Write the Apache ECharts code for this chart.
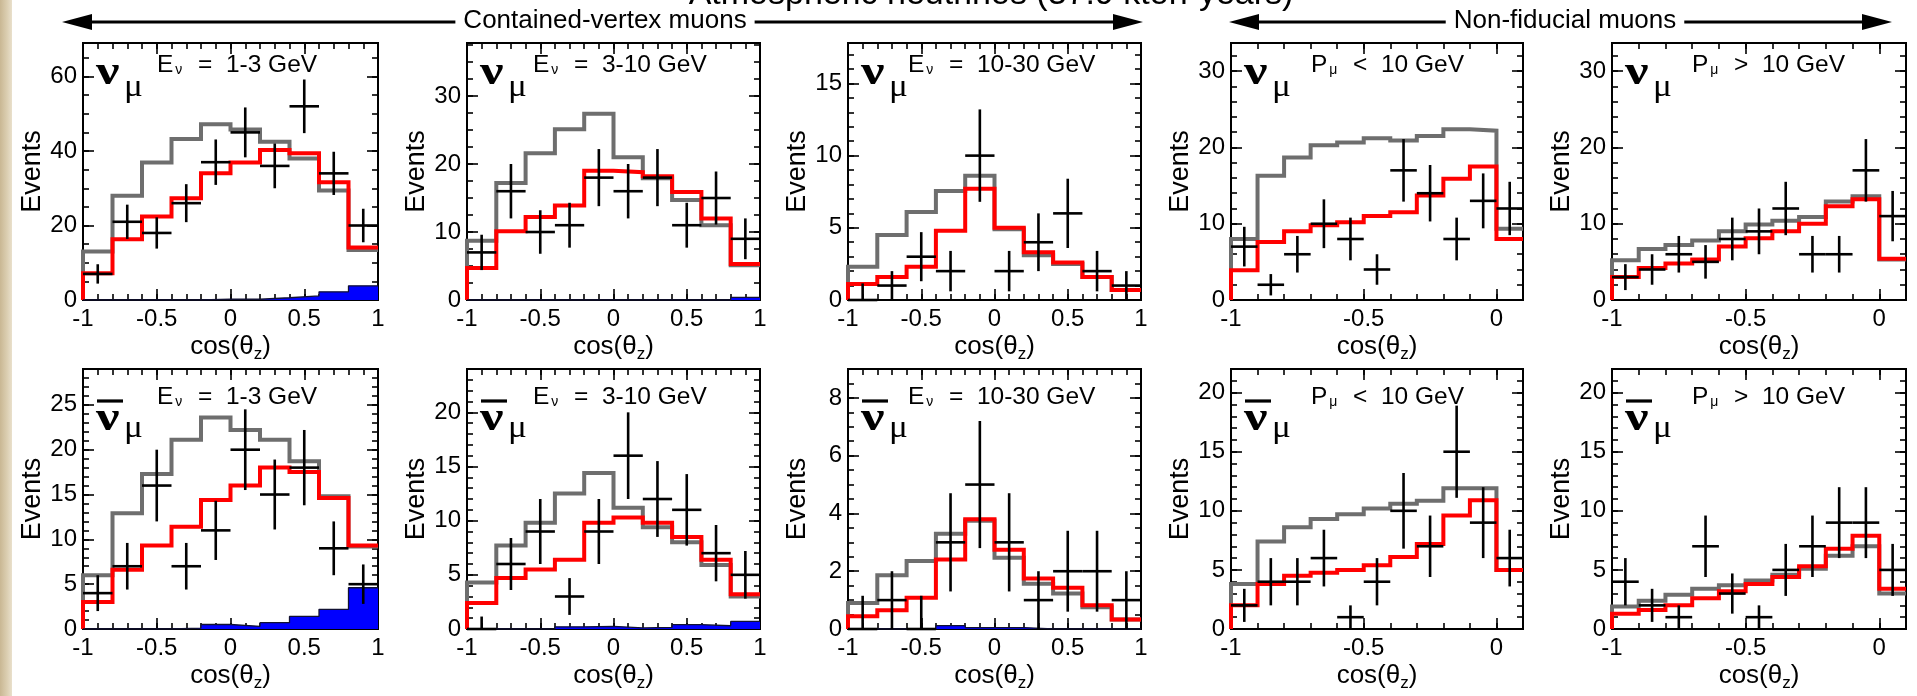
<!DOCTYPE html>
<html>
<head>
<meta charset="utf-8">
<script src="https://cdn.jsdelivr.net/npm/echarts@6.0.0/dist/echarts.min.js"></script>
<style>
  html, body { margin: 0; padding: 0; background: #fff; }
  #chart { width: 1917px; height: 696px; }
</style>
</head>
<body>
<div id="chart"></div>
<script>
// ---- binning -------------------------------------------------------------
const contEdges = [-1, -0.8, -0.6, -0.4, -0.2, 0, 0.2, 0.4, 0.6, 0.8, 1];
const nfEdges = [-1, -0.9, -0.8, -0.7, -0.6, -0.5, -0.4, -0.3, -0.2, -0.1, 0, 0.1];

// ---- numu, contained vertex, E = 1-3 GeV ---------------------------------
const numuLowUnosc = [13.0, 28.0, 36.9, 43.2, 47.2, 45.8, 42.5, 38.0, 29.4, 13.4];
const numuLowOsc   = [7.2, 16.3, 22.4, 27.3, 34.0, 36.9, 40.3, 39.4, 31.6, 14.1];
const numuLowBkg   = [0, 0, 0, 0, 0.2, 0.2, 0.6, 1.1, 2.2, 3.8];
const numuLowData  = [7, 21, 18, 26, 37, 45, 36, 52, 34, 20];
const numuLowErr   = [2.6, 4.6, 4.2, 5.1, 6.1, 6.7, 6.0, 7.2, 5.8, 4.5];

// ---- numu, contained vertex, E = 3-10 GeV --------------------------------
const numuMidUnosc = [8.7, 17.2, 21.6, 25.1, 27.4, 21.0, 17.9, 14.7, 11.0, 5.1];
const numuMidOsc   = [4.7, 10.1, 12.2, 13.9, 19.0, 18.8, 18.2, 15.9, 12.0, 5.3];
const numuMidBkg   = [0, 0, 0, 0, 0, 0, 0, 0, 0, 0.4];
const numuMidData  = [7, 16, 10, 11, 18, 16, 18, 11, 15, 9];
const numuMidErr   = [2.6, 4.0, 3.2, 3.3, 4.2, 4.0, 4.2, 3.3, 3.9, 3.0];

// ---- numu, contained vertex, E = 10-30 GeV -------------------------------
const numuHighUnosc = [2.3, 4.5, 6.1, 7.55, 8.6, 4.9, 3.1, 2.5, 1.6, 0.7];
const numuHighOsc   = [1.1, 1.6, 2.3, 4.8, 7.7, 5.0, 3.3, 2.6, 1.6, 0.7];
const numuHighData  = [0, 1, 3, 2, 10, 2, 4, 6, 2, 1];
const numuHighErr   = [1.15, 1.0, 1.7, 1.4, 3.2, 1.4, 2.0, 2.4, 1.4, 1.0];

// ---- numu, non-fiducial, P < 10 GeV --------------------------------------
const numuNfLowUnosc = [8.0, 16.3, 18.7, 20.3, 20.65, 21.2, 20.9, 21.5, 22.4, 22.2, 9.35];
const numuNfLowOsc   = [3.9, 7.6, 9.0, 9.8, 10.2, 11.0, 11.5, 13.7, 15.9, 17.5, 8.0];
const numuNfLowData  = [7, 2, 6, 10, 8, 4, 17, 14, 8, 13, 12];
const numuNfLowErr   = [2.6, 1.4, 2.4, 3.2, 2.8, 2.0, 4.1, 3.7, 2.8, 3.6, 3.5];

// ---- numu, non-fiducial, P > 10 GeV --------------------------------------
const numuNfHighUnosc = [5.2, 6.7, 7.2, 7.8, 9.0, 9.9, 10.4, 10.9, 12.9, 13.6, 5.3];
const numuNfHighOsc   = [3.0, 4.2, 4.8, 5.3, 7.0, 8.1, 9.0, 10.0, 12.3, 13.2, 5.4];
const numuNfHighData  = [3, 4, 6, 5, 8, 9, 12, 6, 6, 17, 11];
const numuNfHighErr   = [1.7, 2.0, 2.4, 2.2, 2.8, 3.0, 3.5, 2.4, 2.4, 4.1, 3.3];

// ---- numubar, contained vertex, E = 1-3 GeV ------------------------------
const numubarLowUnosc = [6.0, 12.9, 17.3, 21.1, 23.6, 22.2, 21.1, 18.7, 14.8, 9.2];
const numubarLowOsc   = [3.0, 6.6, 9.3, 11.4, 14.4, 16.0, 18.0, 17.5, 14.6, 9.3];
const numubarLowBkg   = [0, 0, 0, 0.1, 0.5, 0.3, 0.7, 1.4, 2.2, 4.6];
const numubarLowData  = [4, 7, 16, 7, 11, 20, 15, 18, 9, 5];
const numubarLowErr   = [2.0, 2.6, 4.0, 2.6, 3.3, 4.5, 3.9, 4.2, 3.0, 2.2];

// ---- numubar, contained vertex, E = 3-10 GeV -----------------------------
const numubarMidUnosc = [4.3, 7.7, 9.8, 12.5, 14.4, 11.2, 9.4, 8.0, 5.9, 3.0];
const numubarMidOsc   = [2.4, 4.7, 5.5, 6.4, 9.8, 10.3, 9.8, 8.5, 6.4, 3.2];
const numubarMidBkg   = [0, 0, 0, 0.2, 0.25, 0.1, 0.15, 0.4, 0.3, 0.7];
const numubarMidData  = [0, 6, 9, 3, 9, 16, 12, 11, 7, 5];
const numubarMidErr   = [1.15, 2.4, 3.0, 1.7, 3.0, 4.0, 3.5, 3.3, 2.6, 2.2];

// ---- numubar, contained vertex, E = 10-30 GeV ----------------------------
const numubarHighUnosc = [0.9, 1.86, 2.35, 3.3, 3.75, 2.47, 1.57, 1.23, 0.75, 0.33];
const numubarHighOsc   = [0.44, 0.65, 1.08, 2.41, 3.8, 2.74, 1.75, 1.43, 0.82, 0.33];
const numubarHighBkg   = [0, 0, 0, 0.12, 0.05, 0.05, 0, 0, 0, 0];
const numubarHighData  = [0, 1, 0, 3, 5, 3, 1, 2, 2, 1];
const numubarHighErr   = [1.15, 1.0, 1.15, 1.7, 2.2, 1.7, 1.0, 1.4, 1.4, 1.0];

// ---- numubar, non-fiducial, P < 10 GeV -----------------------------------
const numubarNfLowUnosc = [3.8, 7.4, 8.6, 9.3, 9.7, 10.2, 10.6, 10.85, 11.9, 11.9, 5.0];
const numubarNfLowOsc   = [2.0, 3.8, 4.5, 4.75, 5.0, 5.4, 6.1, 7.2, 9.6, 10.9, 5.0];
const numubarNfLowData  = [2, 4, 4, 6, 1, 4, 10, 7, 15, 9, 6];
const numubarNfLowErr   = [1.4, 2.0, 2.0, 2.4, 1.0, 2.0, 3.2, 2.6, 3.9, 3.0, 2.4];

// ---- numubar, non-fiducial, P > 10 GeV -----------------------------------
const numubarNfHighUnosc = [1.9, 2.4, 2.9, 3.4, 3.7, 4.1, 4.6, 5.1, 6.2, 7.0, 3.0];
const numubarNfHighOsc   = [1.3, 1.6, 2.0, 2.6, 3.2, 3.8, 4.4, 5.3, 6.8, 7.9, 3.4];
const numubarNfHighData  = [4, 2, 1, 7, 3, 1, 5, 7, 9, 9, 5];
const numubarNfHighErr   = [2.0, 1.4, 1.0, 2.6, 1.7, 1.0, 2.2, 2.6, 3.0, 3.0, 2.2];

// ---- panel texts and y scales --------------------------------------------
const panelLabels = [
  '{v|E}{s|ν}{v|  =  1-3 GeV}', '{v|E}{s|ν}{v|  =  3-10 GeV}', '{v|E}{s|ν}{v|  =  10-30 GeV}',
  '{v|P}{s|μ}{v|  <  10 GeV}', '{v|P}{s|μ}{v|  >  10 GeV}'
];
const yMaxes  = [69, 37.8, 17.8, 33.7, 33.7, 29, 24, 9, 22, 22];
const yMajors = [20, 10, 5, 10, 10, 5, 5, 2, 5, 5];
const yMinors = [5, 2.5, 1, 2, 2, 1, 1, 0.5, 1, 1];

const panels = [
  { edges: contEdges, unosc: numuLowUnosc, osc: numuLowOsc, bkg: numuLowBkg, data: numuLowData, err: numuLowErr },
  { edges: contEdges, unosc: numuMidUnosc, osc: numuMidOsc, bkg: numuMidBkg, data: numuMidData, err: numuMidErr },
  { edges: contEdges, unosc: numuHighUnosc, osc: numuHighOsc, bkg: null, data: numuHighData, err: numuHighErr },
  { edges: nfEdges, unosc: numuNfLowUnosc, osc: numuNfLowOsc, bkg: null, data: numuNfLowData, err: numuNfLowErr },
  { edges: nfEdges, unosc: numuNfHighUnosc, osc: numuNfHighOsc, bkg: null, data: numuNfHighData, err: numuNfHighErr },
  { edges: contEdges, unosc: numubarLowUnosc, osc: numubarLowOsc, bkg: numubarLowBkg, data: numubarLowData, err: numubarLowErr },
  { edges: contEdges, unosc: numubarMidUnosc, osc: numubarMidOsc, bkg: numubarMidBkg, data: numubarMidData, err: numubarMidErr },
  { edges: contEdges, unosc: numubarHighUnosc, osc: numubarHighOsc, bkg: numubarHighBkg, data: numubarHighData, err: numubarHighErr },
  { edges: nfEdges, unosc: numubarNfLowUnosc, osc: numubarNfLowOsc, bkg: null, data: numubarNfLowData, err: numubarNfLowErr },
  { edges: nfEdges, unosc: numubarNfHighUnosc, osc: numubarNfHighOsc, bkg: null, data: numubarNfHighData, err: numubarNfHighErr }
];

// ---- layout --------------------------------------------------------------
const colLeft = [83, 467, 848, 1231, 1612];
const colWidth = [295, 293, 293, 292, 294];
const rowTop = [43, 369];
const rowHeight = [257, 260];
const labelLeft = [74, 66, 60, 80, 80];

const FONT = "'Liberation Sans', Arial, Helvetica, sans-serif";
const SERIF = "'Liberation Serif', 'Times New Roman', serif";

// histogram outline: rises from zero at the first edge, flat across each bin
function stepPoints(edges, vals) {
  const pts = [[edges[0], 0]];
  vals.forEach((v, k) => pts.push([edges[k], v]));
  pts.push([edges[edges.length - 1], vals[vals.length - 1]]);
  return pts;
}

// data crosses: [binLow, binHigh, value, errLow, errHigh]
function crossItems(edges, vals, errs) {
  return vals.map((v, k) => [edges[k], edges[k + 1], v, Math.max(0, v - errs[k]), v + errs[k]]);
}

function renderCross(params, api) {
  const lo = api.value(0), hi = api.value(1), y = api.value(2);
  const c = (lo + hi) / 2;
  const pL = api.coord([lo, y]), pR = api.coord([hi, y]);
  const pB = api.coord([c, api.value(3)]), pT = api.coord([c, api.value(4)]);
  const st = { stroke: '#000', lineWidth: 2.6 };
  return {
    type: 'group',
    children: [
      { type: 'line', shape: { x1: pL[0], y1: pL[1], x2: pR[0], y2: pR[1] }, style: st },
      { type: 'line', shape: { x1: pT[0], y1: pT[1], x2: pB[0], y2: pB[1] }, style: st }
    ]
  };
}

const grid = [], xAxis = [], yAxis = [], series = [], graphic = [];
const tickStyle = { color: '#000', width: 1.6 };
const noLine = { show: false, onZero: false };

panels.forEach((p, i) => {
  const row = i < 5 ? 0 : 1, col = i % 5;
  const left = colLeft[col], top = rowTop[row], width = colWidth[col], height = rowHeight[row];
  grid.push({
    left, top, width, height, show: true, borderColor: '#000', borderWidth: 2,
    backgroundColor: '#fff', containLabel: false, outerBoundsMode: 'none'
  });

  const xMin = p.edges[0], xMax = p.edges[p.edges.length - 1];
  const xBase = {
    type: 'value', gridIndex: i, min: xMin, max: xMax,
    axisLine: noLine, splitLine: { show: false }, axisLabel: { show: false }
  };
  xAxis.push(Object.assign({}, xBase, {
    position: 'bottom', interval: 0.5,
    axisTick: { show: true, inside: true, length: 11, lineStyle: tickStyle },
    axisLabel: {
      show: true, fontSize: 24, fontFamily: FONT, color: '#000', margin: 7,
      showMinLabel: true, showMaxLabel: xMax === 1
    },
    name: '{a|cos(θ}{b|z}{a|)}', nameLocation: 'middle', nameGap: 31, nameMoveOverlap: false,
    nameTextStyle: {
      rich: {
        a: { fontSize: 26, fontFamily: FONT, color: '#000' },
        b: { fontSize: 17, fontFamily: FONT, color: '#000', padding: [15, 0, 0, 0] }
      }
    }
  }));
  xAxis.push(Object.assign({}, xBase, {
    position: 'bottom', interval: 0.1,
    axisTick: { show: true, inside: true, length: 6, lineStyle: tickStyle }
  }));
  xAxis.push(Object.assign({}, xBase, {
    position: 'top', interval: 0.5,
    axisTick: { show: true, inside: true, length: 11, lineStyle: tickStyle }
  }));
  xAxis.push(Object.assign({}, xBase, {
    position: 'top', interval: 0.1,
    axisTick: { show: true, inside: true, length: 6, lineStyle: tickStyle }
  }));

  const yBase = {
    type: 'value', gridIndex: i, min: 0, max: yMaxes[i],
    axisLine: noLine, splitLine: { show: false }, axisLabel: { show: false }
  };
  yAxis.push(Object.assign({}, yBase, {
    position: 'left', interval: yMajors[i],
    axisTick: { show: true, inside: true, length: 11, lineStyle: tickStyle },
    axisLabel: {
      show: true, fontSize: 24, fontFamily: FONT, color: '#000', margin: 6,
      showMinLabel: true, showMaxLabel: false
    },
    name: 'Events', nameLocation: 'middle', nameRotate: 90, nameGap: 37, nameMoveOverlap: false,
    nameTextStyle: { fontSize: 27, fontFamily: FONT, color: '#000' }
  }));
  yAxis.push(Object.assign({}, yBase, {
    position: 'left', interval: yMinors[i],
    axisTick: { show: true, inside: true, length: 6, lineStyle: tickStyle }
  }));
  yAxis.push(Object.assign({}, yBase, {
    position: 'right', interval: yMajors[i],
    axisTick: { show: true, inside: true, length: 11, lineStyle: tickStyle }
  }));
  yAxis.push(Object.assign({}, yBase, {
    position: 'right', interval: yMinors[i],
    axisTick: { show: true, inside: true, length: 6, lineStyle: tickStyle }
  }));

  const ax = i * 4;
  const lineBase = {
    type: 'line', xAxisIndex: ax, yAxisIndex: ax, step: 'end', symbol: 'none',
    showSymbol: false, clip: true, silent: true
  };
  series.push(Object.assign({}, lineBase, {
    name: 'unoscillated', data: stepPoints(p.edges, p.unosc), z: 2,
    lineStyle: { color: '#6e6e6e', width: 4, join: 'miter', cap: 'butt' }
  }));
  series.push(Object.assign({}, lineBase, {
    name: 'oscillated', data: stepPoints(p.edges, p.osc), z: 3,
    lineStyle: { color: '#ff0000', width: 4, join: 'miter', cap: 'butt' }
  }));
  if (p.bkg) {
    series.push(Object.assign({}, lineBase, {
      name: 'background', data: stepPoints(p.edges, p.bkg), z: 4,
      lineStyle: { color: '#111133', width: 1.3 },
      areaStyle: { color: '#0000ff', opacity: 1, origin: 'start' }
    }));
  }
  series.push({
    type: 'custom', name: 'data', xAxisIndex: ax, yAxisIndex: ax, z: 6, silent: true,
    data: crossItems(p.edges, p.data, p.err), renderItem: renderCross,
    encode: { x: [0, 1], y: [2, 3, 4] }
  });

  // flavour symbol and selection label
  const anti = row === 1;
  graphic.push({
    type: 'text', x: left + 13, y: top + (anti ? 50 : 30), scaleX: 1.25, z: 50,
    style: { text: 'ν', fontSize: 42, fontWeight: 'bold', fontFamily: SERIF, fill: '#000', align: 'left', verticalAlign: 'middle' }
  });
  graphic.push({
    type: 'text', x: left + 41, y: top + (anti ? 60 : 45), scaleX: 1.1, z: 50,
    style: { text: 'μ', fontSize: 32, fontFamily: SERIF, fill: '#000', align: 'left', verticalAlign: 'middle' }
  });
  if (anti) {
    graphic.push({
      type: 'line', z: 50, shape: { x1: left + 14, y1: top + 32, x2: left + 40, y2: top + 32 },
      style: { stroke: '#000', lineWidth: 3.2 }
    });
  }
  graphic.push({
    type: 'text', x: left + labelLeft[col], y: top + (anti ? 28 : 22), z: 50,
    style: {
      text: panelLabels[col], align: 'left', verticalAlign: 'middle',
      rich: {
        v: { fontSize: 24.5, fontFamily: FONT, fill: '#000', color: '#000' },
        s: { fontSize: 14, fontFamily: FONT, fill: '#000', color: '#000', padding: [11, 2, 0, 2] }
      }
    }
  });
});

// ---- header: page title, selection arrows, side strip ----------------------
graphic.push({
  type: 'rect', z: 0, shape: { x: 0, y: 0, width: 12, height: 696 },
  style: {
    fill: {
      type: 'linear', x: 0, y: 0, x2: 1, y2: 0,
      colorStops: [{ offset: 0, color: '#c9b793' }, { offset: 0.6, color: '#dccfb2' }, { offset: 1, color: '#e9e0cc' }]
    }
  }
});
graphic.push({
  type: 'text', x: 991, y: -5, z: 50,
  style: { text: 'Atmospheric neutrinos (37.9 kton-years)', fontSize: 34, fontFamily: FONT, fill: '#000', align: 'center', verticalAlign: 'middle' }
});

function headerArrow(x1, x2, y, label, cx) {
  graphic.push({ type: 'line', z: 40, shape: { x1: x1 + 20, y1: y, x2: x2 - 20, y2: y }, style: { stroke: '#000', lineWidth: 3 } });
  graphic.push({ type: 'polygon', z: 40, shape: { points: [[x1, y], [x1 + 30, y - 8], [x1 + 30, y + 8]] }, style: { fill: '#000' } });
  graphic.push({ type: 'polygon', z: 40, shape: { points: [[x2, y], [x2 - 30, y - 8], [x2 - 30, y + 8]] }, style: { fill: '#000' } });
  graphic.push({
    type: 'text', x: cx, y: y - 1, z: 45,
    style: { text: label, fontSize: 26, fontFamily: FONT, fill: '#000', align: 'center', verticalAlign: 'middle', backgroundColor: '#fff', padding: [2, 8] }
  });
}
headerArrow(62, 1143, 22, 'Contained-vertex muons', 605);
headerArrow(1229, 1892, 22, 'Non-fiducial muons', 1565);

const chart = echarts.init(document.getElementById('chart'), null, { renderer: 'canvas' });
chart.setOption({
  animation: false,
  backgroundColor: '#fff',
  grid, xAxis, yAxis, series, graphic
});
</script>
</body>
</html>
